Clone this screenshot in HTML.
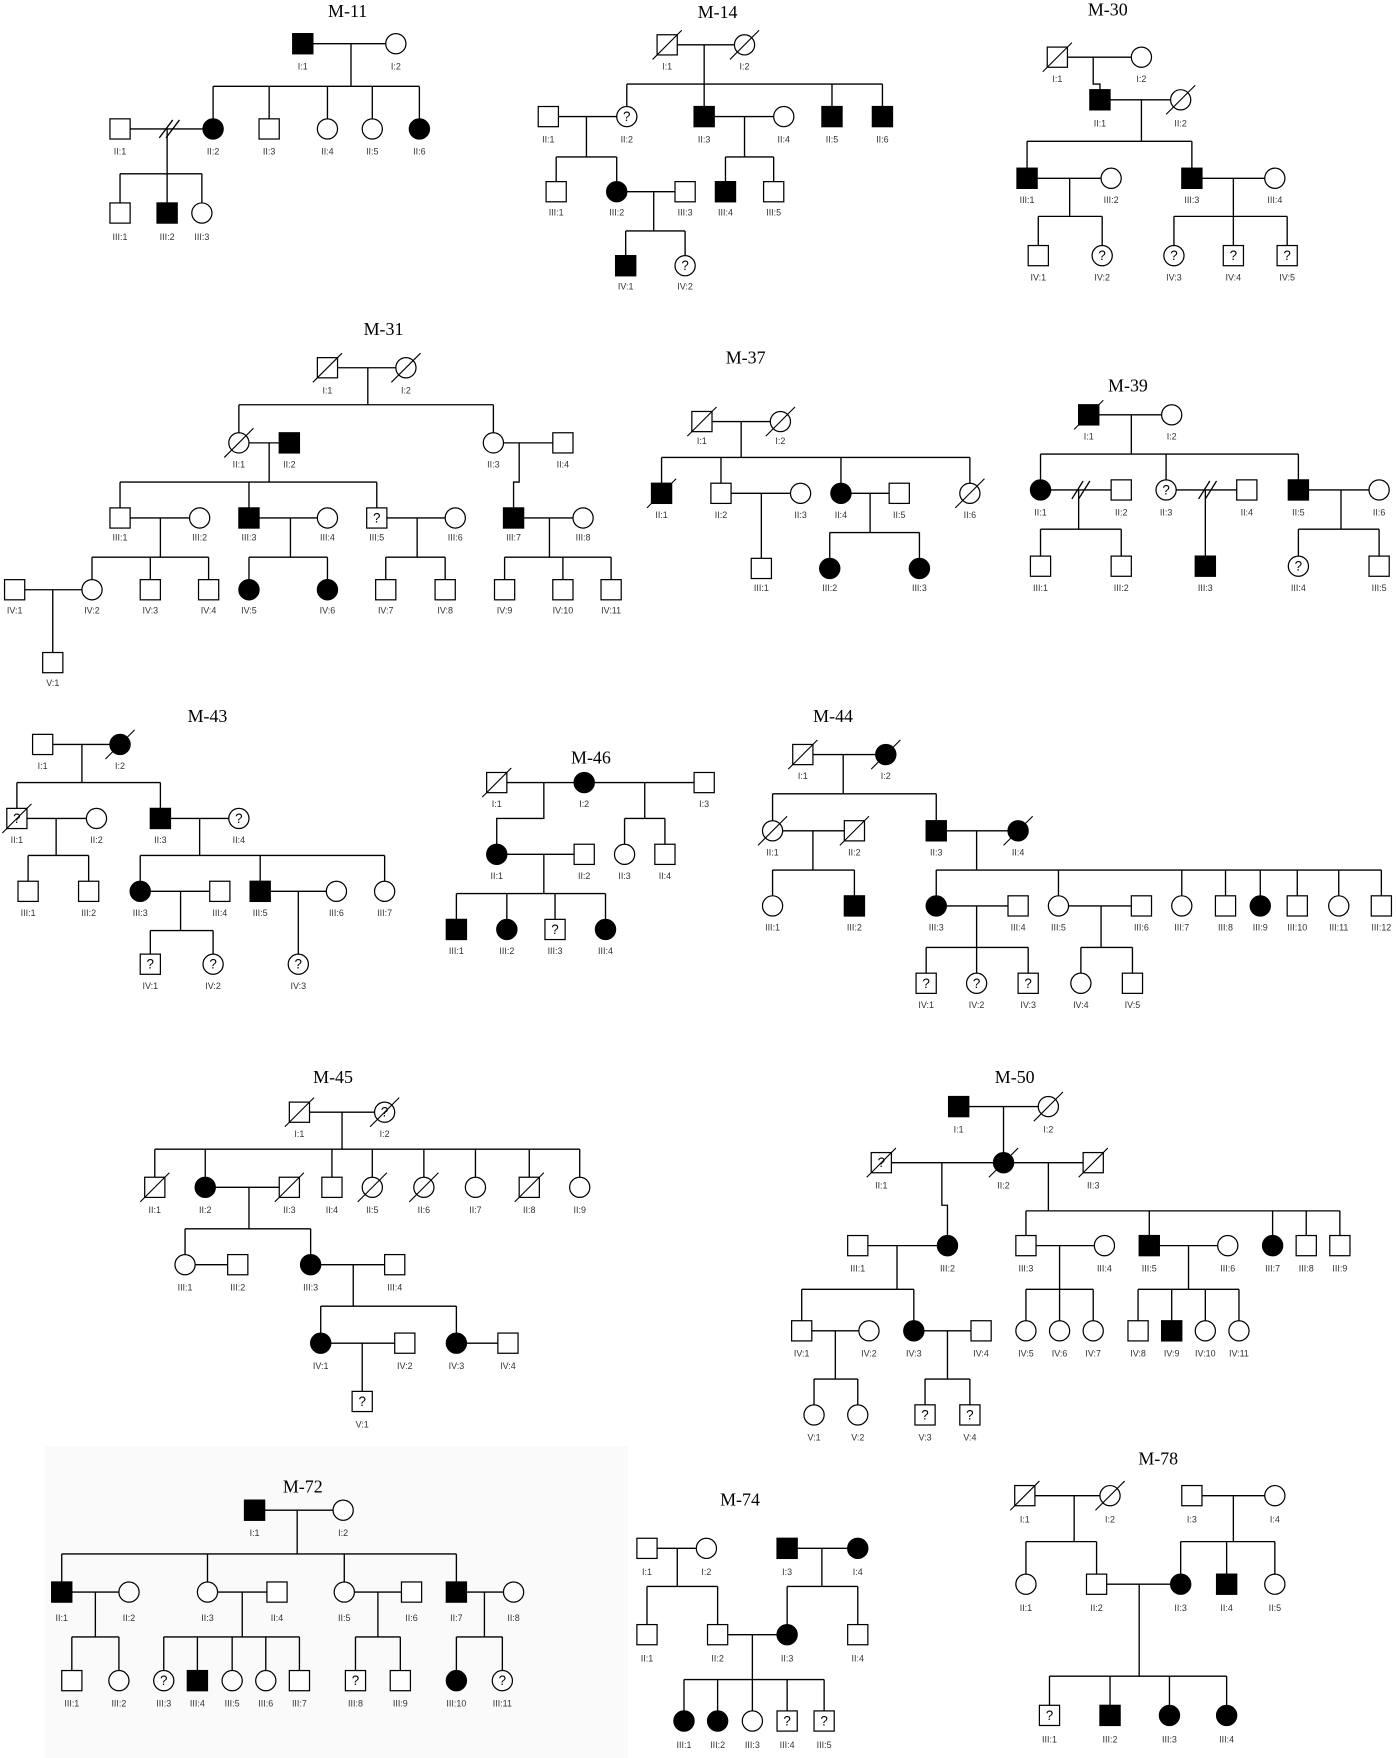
<!DOCTYPE html>
<html><head><meta charset="utf-8"><style>
html,body{margin:0;padding:0;background:#fff}
svg{display:block}
.l{fill:none;stroke:#000;stroke-width:1.2}
rect,circle{fill:#fff;stroke:#000;stroke-width:1.1}
.f{fill:#000}
.d{stroke:#000;stroke-width:1}
.t{font-family:"Liberation Serif",serif;font-size:16px;text-anchor:middle;fill:#000}
.b text{font-family:"Liberation Sans",sans-serif;font-size:8px;text-anchor:middle;fill:#333}
.q{font-family:"Liberation Sans",sans-serif;font-size:12px;text-anchor:middle;fill:#000}
</style></head><body>
<svg width="1396" height="1758" viewBox="0 0 1245 1568" xmlns="http://www.w3.org/2000/svg">
<rect x="0" y="0" width="1245" height="1568" style="fill:#fff;stroke:none"/>
<rect x="40" y="1290" width="520" height="278" style="fill:#fafafa;stroke:none"/>

<!-- TITLES -->
<text class="t" x="310" y="15">M-11</text>
<text class="t" x="640" y="16">M-14</text>
<text class="t" x="988" y="14">M-30</text>
<text class="t" x="342" y="299">M-31</text>
<text class="t" x="665" y="324">M-37</text>
<text class="t" x="1006" y="349">M-39</text>
<text class="t" x="185" y="644">M-43</text>
<text class="t" x="527" y="681">M-46</text>
<text class="t" x="743" y="644">M-44</text>
<text class="t" x="297" y="966">M-45</text>
<text class="t" x="905" y="966">M-50</text>
<text class="t" x="270" y="1331">M-72</text>
<text class="t" x="660" y="1343">M-74</text>
<text class="t" x="1033" y="1306">M-78</text>

<!-- LINES -->
<path class="l" d="
M270 39H353 M313 39V77 M190 77H374 M190 77V115 M240 77V115 M292 77V115 M332 77V115 M374 77V115
M107 115H190 M149 115V155 M107 155H180 M107 155V190 M149 155V190 M180 155V190
M595 40H664 M628 40V75 M559 75H787 M559 75V104 M628 75V104 M742 75V104 M787 75V104
M489 104H559 M523 104V140 M496 140H550 M496 140V171 M550 140V171
M550 171H611 M583 171V206 M558 206H611 M558 206V237 M611 206V237
M628 104H699 M664 104V140 M647 140H690 M647 140V171 M690 140V171
M943 51H1018 M975 51V75 H981 V89 M981 89H1053 M1018 89V126 M916 126H1063 M916 126V159 M1063 126V159
M916 159H991 M954 159V193 M926 193H983 M926 193V228 M983 193V228
M1063 159H1137 M1100 159V193 M1047 193H1148 M1047 193V228 M1100 193V228 M1148 193V228
M292 328H362 M328 328V361 M213 361H440 M213 361V395 M440 361V395
M213 395H258 M240 395V430 M107 430H336 M107 430V462 M222 430V462 M336 430V462
M440 395H502 M463 395V430 H458 V462 M458 462H520
M107 462H178 M143 462V497 M82 497H186 M82 497V526 M134 497V526 M186 497V526
M222 462H292 M259 462V497 M222 497H292 M222 497V526 M292 497V526
M336 462H406 M372 462V497 M344 497H397 M344 497V526 M397 497V526
M490 462V497 M450 497H545 M450 497V526 M502 497V526 M545 497V526
M13 526H82 M47 526V591
M626 376H696 M661 376V408 M590 408H865 M590 408V440 M643 408V440 M750 408V440 M865 408V440
M643 440H714 M679 440V507 M750 440H802 M776 440V475 M740 475H820 M740 475V507 M820 475V507
M971 370H1045 M1009 370V405 M928 405H1158 M928 405V437 M1040 405V437 M1158 405V437
M928 437H1000 M962 437V472 M928 472H1000 M928 472V505 M1000 472V505
M1040 437H1112 M1075 437V505 M1158 437H1230 M1196 437V472 M1158 472H1230 M1158 472V505 M1230 472V505
M38 664H107 M73 664V698 M15 698H143 M15 698V730 M143 698V730
M15 730H86 M50 730V763 M25 763H79 M25 763V795 M79 763V795
M143 730H213 M178 730V763 M125 763H343 M125 763V795 M232 763V795 M343 763V795
M125 795H196 M161 795V830 M134 830H190 M134 830V860 M190 830V860
M232 795H300 M266 795V860
M443 698H628 M485 698V730 H443 V762 M575 698V730 M557 730H593 M557 730V762 M593 730V762
M443 762H521 M485 762V797 M407 797H540 M407 797V829 M452 797V829 M495 797V829 M540 797V829
M716 673H790 M752 673V708 M689 708H835 M689 708V741 M835 708V741
M689 741H762 M725 741V776 M689 776H762 M689 776V808 M762 776V808
M835 741H908 M871 741V776 M835 776H1232 M835 776V808 M944 776V808 M1054 776V808 M1093 776V808 M1124 776V808 M1157 776V808 M1194 776V808 M1232 776V808
M835 808H908 M871 808V845 M826 845H917 M826 845V877 M871 845V877 M917 845V877
M944 808H1018 M982 808V845 M964 845H1010 M964 845V877 M1010 845V877
M267 992H343 M305 992V1025 M138 1025H517 M138 1025V1059 M183 1025V1059 M296 1025V1059 M332 1025V1059 M378 1025V1059 M424 1025V1059 M472 1025V1059 M517 1025V1059
M183 1059H258 M222 1059V1096 M165 1096H277 M165 1096V1128 M277 1096V1128 M165 1128H212
M277 1128H352 M315 1128V1165 M286 1165H407 M286 1165V1198 M407 1165V1198
M286 1198H361 M323 1198V1250 M407 1198H453
M855 987H935 M895 987V1037 M786 1037H975 M840 1037V1075 H845 V1111 M935 1037V1080 M915 1080H1195 M915 1080V1111 M1025 1080V1111 M1135 1080V1111 M1165 1080V1111 M1195 1080V1111
M765 1111H845 M800 1111V1150 M715 1150H815 M715 1150V1187 M815 1150V1187
M715 1187H775 M745 1187V1230 M726 1230H765 M726 1230V1262 M765 1230V1262
M815 1187H875 M845 1187V1230 M825 1230H865 M825 1230V1262 M865 1230V1262
M915 1111H985 M945 1111V1150 M915 1150H975 M915 1150V1187 M945 1150V1187 M975 1150V1187
M1025 1111H1095 M1060 1111V1150 M1015 1150H1105 M1015 1150V1187 M1045 1150V1187 M1075 1150V1187 M1105 1150V1187
M227 1347H306 M265 1347V1386 M55 1386H407 M55 1386V1420 M185 1386V1420 M307 1386V1420 M407 1386V1420
M55 1420H115 M85 1420V1460 M64 1460H106 M64 1460V1499 M106 1460V1499
M185 1420H247 M216 1420V1460 M146 1460H267 M146 1460V1499 M176 1460V1499 M207 1460V1499 M237 1460V1499 M267 1460V1499
M307 1420H367 M337 1420V1460 M317 1460H357 M317 1460V1499 M357 1460V1499
M407 1420H458 M432 1420V1460 M407 1460H448 M407 1460V1499 M448 1460V1499
M577 1381H630 M604 1381V1415 M577 1415H640 M577 1415V1458 M640 1415V1458
M702 1381H765 M733 1381V1415 M702 1415H765 M702 1415V1458 M765 1415V1458
M640 1458H702 M671 1458V1498 M610 1498H735 M610 1498V1535 M640 1498V1535 M671 1498V1535 M702 1498V1535 M735 1498V1535
M914 1334H990 M958 1334V1375 M915 1375H978 M915 1375V1413 M978 1375V1413
M1063 1334H1137 M1100 1334V1375 M1053 1375H1137 M1053 1375V1413 M1094 1375V1413 M1137 1375V1413
M978 1413H1053 M1016 1413V1495 M936 1495H1094 M936 1495V1530 M990 1495V1530 M1043 1495V1530 M1094 1495V1530
"/>
<!-- divorce slashes -->
<path class="l" d="M142 123L154 107 M148 123L160 107 M956 445L966 429 M962 445L972 429 M1069 445L1079 429 M1075 445L1085 429"/>

<!-- SHAPES -->
<g>
<!-- M-11 -->
<rect class="f" x="261" y="30" width="18" height="18"/><circle cx="353" cy="39" r="9"/>
<rect x="98" y="106" width="18" height="18"/><circle class="f" cx="190" cy="115" r="9"/><rect x="231" y="106" width="18" height="18"/><circle cx="292" cy="115" r="9"/><circle cx="332" cy="115" r="9"/><circle class="f" cx="374" cy="115" r="9"/>
<rect x="98" y="181" width="18" height="18"/><rect class="f" x="140" y="181" width="18" height="18"/><circle cx="180" cy="190" r="9"/>
<!-- M-14 -->
<rect x="586" y="31" width="18" height="18"/><circle cx="664" cy="40" r="9"/>
<rect x="480" y="95" width="18" height="18"/><circle cx="559" cy="104" r="9"/><rect class="f" x="619" y="95" width="18" height="18"/><circle cx="699" cy="104" r="9"/><rect class="f" x="733" y="95" width="18" height="18"/><rect class="f" x="778" y="95" width="18" height="18"/>
<rect x="487" y="162" width="18" height="18"/><circle class="f" cx="550" cy="171" r="9"/><rect x="602" y="162" width="18" height="18"/><rect class="f" x="638" y="162" width="18" height="18"/><rect x="681" y="162" width="18" height="18"/>
<rect class="f" x="549" y="228" width="18" height="18"/><circle cx="611" cy="237" r="9"/>
<!-- M-30 -->
<rect x="934" y="42" width="18" height="18"/><circle cx="1018" cy="51" r="9"/>
<rect class="f" x="972" y="80" width="18" height="18"/><circle cx="1053" cy="89" r="9"/>
<rect class="f" x="907" y="150" width="18" height="18"/><circle cx="991" cy="159" r="9"/><rect class="f" x="1054" y="150" width="18" height="18"/><circle cx="1137" cy="159" r="9"/>
<rect x="917" y="219" width="18" height="18"/><circle cx="983" cy="228" r="9"/><circle cx="1047" cy="228" r="9"/><rect x="1091" y="219" width="18" height="18"/><rect x="1139" y="219" width="18" height="18"/>
<!-- M-31 -->
<rect x="283" y="319" width="18" height="18"/><circle cx="362" cy="328" r="9"/>
<circle cx="213" cy="395" r="9"/><rect class="f" x="249" y="386" width="18" height="18"/><circle cx="440" cy="395" r="9"/><rect x="493" y="386" width="18" height="18"/>
<rect x="98" y="453" width="18" height="18"/><circle cx="178" cy="462" r="9"/><rect class="f" x="213" y="453" width="18" height="18"/><circle cx="292" cy="462" r="9"/><rect x="327" y="453" width="18" height="18"/><circle cx="406" cy="462" r="9"/><rect class="f" x="449" y="453" width="18" height="18"/><circle cx="520" cy="462" r="9"/>
<rect x="4" y="517" width="18" height="18"/><circle cx="82" cy="526" r="9"/><rect x="125" y="517" width="18" height="18"/><rect x="177" y="517" width="18" height="18"/><circle class="f" cx="222" cy="526" r="9"/><circle class="f" cx="292" cy="526" r="9"/><rect x="335" y="517" width="18" height="18"/><rect x="388" y="517" width="18" height="18"/><rect x="441" y="517" width="18" height="18"/><rect x="493" y="517" width="18" height="18"/><rect x="536" y="517" width="18" height="18"/>
<rect x="38" y="582" width="18" height="18"/>
<!-- M-37 -->
<rect x="617" y="367" width="18" height="18"/><circle cx="696" cy="376" r="9"/>
<rect class="f" x="581" y="431" width="18" height="18"/><rect x="634" y="431" width="18" height="18"/><circle cx="714" cy="440" r="9"/><circle class="f" cx="750" cy="440" r="9"/><rect x="793" y="431" width="18" height="18"/><circle cx="865" cy="440" r="9"/>
<rect x="670" y="498" width="18" height="18"/><circle class="f" cx="740" cy="507" r="9"/><circle class="f" cx="820" cy="507" r="9"/>
<!-- M-39 -->
<rect class="f" x="962" y="361" width="18" height="18"/><circle cx="1045" cy="370" r="9"/>
<circle class="f" cx="928" cy="437" r="9"/><rect x="991" y="428" width="18" height="18"/><circle cx="1040" cy="437" r="9"/><rect x="1103" y="428" width="18" height="18"/><rect class="f" x="1149" y="428" width="18" height="18"/><circle cx="1230" cy="437" r="9"/>
<rect x="919" y="496" width="18" height="18"/><rect x="991" y="496" width="18" height="18"/><rect class="f" x="1066" y="496" width="18" height="18"/><circle cx="1158" cy="505" r="9"/><rect x="1221" y="496" width="18" height="18"/>
<!-- M-43 -->
<rect x="29" y="655" width="18" height="18"/><circle class="f" cx="107" cy="664" r="9"/>
<rect x="6" y="721" width="18" height="18"/><circle cx="86" cy="730" r="9"/><rect class="f" x="134" y="721" width="18" height="18"/><circle cx="213" cy="730" r="9"/>
<rect x="16" y="786" width="18" height="18"/><rect x="70" y="786" width="18" height="18"/><circle class="f" cx="125" cy="795" r="9"/><rect x="187" y="786" width="18" height="18"/><rect class="f" x="223" y="786" width="18" height="18"/><circle cx="300" cy="795" r="9"/><circle cx="343" cy="795" r="9"/>
<rect x="125" y="851" width="18" height="18"/><circle cx="190" cy="860" r="9"/><circle cx="266" cy="860" r="9"/>
<!-- M-46 -->
<rect x="434" y="689" width="18" height="18"/><circle class="f" cx="521" cy="698" r="9"/><rect x="619" y="689" width="18" height="18"/>
<circle class="f" cx="443" cy="762" r="9"/><rect x="512" y="753" width="18" height="18"/><circle cx="557" cy="762" r="9"/><rect x="584" y="753" width="18" height="18"/>
<rect class="f" x="398" y="820" width="18" height="18"/><circle class="f" cx="452" cy="829" r="9"/><rect x="486" y="820" width="18" height="18"/><circle class="f" cx="540" cy="829" r="9"/>
<!-- M-44 -->
<rect x="707" y="664" width="18" height="18"/><circle class="f" cx="790" cy="673" r="9"/>
<circle cx="689" cy="741" r="9"/><rect x="753" y="732" width="18" height="18"/><rect class="f" x="826" y="732" width="18" height="18"/><circle class="f" cx="908" cy="741" r="9"/>
<circle cx="689" cy="808" r="9"/><rect class="f" x="753" y="799" width="18" height="18"/><circle class="f" cx="835" cy="808" r="9"/><rect x="899" y="799" width="18" height="18"/><circle cx="944" cy="808" r="9"/><rect x="1009" y="799" width="18" height="18"/><circle cx="1054" cy="808" r="9"/><rect x="1084" y="799" width="18" height="18"/><circle class="f" cx="1124" cy="808" r="9"/><rect x="1148" y="799" width="18" height="18"/><circle cx="1194" cy="808" r="9"/><rect x="1223" y="799" width="18" height="18"/>
<rect x="817" y="868" width="18" height="18"/><circle cx="871" cy="877" r="9"/><rect x="908" y="868" width="18" height="18"/><circle cx="964" cy="877" r="9"/><rect x="1001" y="868" width="18" height="18"/>
<!-- M-45 -->
<rect x="258" y="983" width="18" height="18"/><circle cx="343" cy="992" r="9"/>
<rect x="129" y="1050" width="18" height="18"/><circle class="f" cx="183" cy="1059" r="9"/><rect x="249" y="1050" width="18" height="18"/><rect x="287" y="1050" width="18" height="18"/><circle cx="332" cy="1059" r="9"/><circle cx="378" cy="1059" r="9"/><circle cx="424" cy="1059" r="9"/><rect x="463" y="1050" width="18" height="18"/><circle cx="517" cy="1059" r="9"/>
<circle cx="165" cy="1128" r="9"/><rect x="203" y="1119" width="18" height="18"/><circle class="f" cx="277" cy="1128" r="9"/><rect x="343" y="1119" width="18" height="18"/>
<circle class="f" cx="286" cy="1198" r="9"/><rect x="352" y="1189" width="18" height="18"/><circle class="f" cx="407" cy="1198" r="9"/><rect x="444" y="1189" width="18" height="18"/>
<rect x="314" y="1241" width="18" height="18"/>
<!-- M-50 -->
<rect class="f" x="846" y="978" width="18" height="18"/><circle cx="935" cy="987" r="9"/>
<rect x="777" y="1028" width="18" height="18"/><circle class="f" cx="895" cy="1037" r="9"/><rect x="966" y="1028" width="18" height="18"/>
<rect x="756" y="1102" width="18" height="18"/><circle class="f" cx="845" cy="1111" r="9"/><rect x="906" y="1102" width="18" height="18"/><circle cx="985" cy="1111" r="9"/><rect class="f" x="1016" y="1102" width="18" height="18"/><circle cx="1095" cy="1111" r="9"/><circle class="f" cx="1135" cy="1111" r="9"/><rect x="1156" y="1102" width="18" height="18"/><rect x="1186" y="1102" width="18" height="18"/>
<rect x="706" y="1178" width="18" height="18"/><circle cx="775" cy="1187" r="9"/><circle class="f" cx="815" cy="1187" r="9"/><rect x="866" y="1178" width="18" height="18"/><circle cx="915" cy="1187" r="9"/><circle cx="945" cy="1187" r="9"/><circle cx="975" cy="1187" r="9"/><rect x="1006" y="1178" width="18" height="18"/><rect class="f" x="1036" y="1178" width="18" height="18"/><circle cx="1075" cy="1187" r="9"/><circle cx="1105" cy="1187" r="9"/>
<circle cx="726" cy="1262" r="9"/><circle cx="765" cy="1262" r="9"/><rect x="816" y="1253" width="18" height="18"/><rect x="856" y="1253" width="18" height="18"/>
<!-- M-72 -->
<rect class="f" x="218" y="1338" width="18" height="18"/><circle cx="306" cy="1347" r="9"/>
<rect class="f" x="46" y="1411" width="18" height="18"/><circle cx="115" cy="1420" r="9"/><circle cx="185" cy="1420" r="9"/><rect x="238" y="1411" width="18" height="18"/><circle cx="307" cy="1420" r="9"/><rect x="358" y="1411" width="18" height="18"/><rect class="f" x="398" y="1411" width="18" height="18"/><circle cx="458" cy="1420" r="9"/>
<rect x="55" y="1490" width="18" height="18"/><circle cx="106" cy="1499" r="9"/><circle cx="146" cy="1499" r="9"/><rect class="f" x="167" y="1490" width="18" height="18"/><circle cx="207" cy="1499" r="9"/><circle cx="237" cy="1499" r="9"/><rect x="258" y="1490" width="18" height="18"/><rect x="308" y="1490" width="18" height="18"/><rect x="348" y="1490" width="18" height="18"/><circle class="f" cx="407" cy="1499" r="9"/><circle cx="448" cy="1499" r="9"/>
<!-- M-74 -->
<rect x="568" y="1372" width="18" height="18"/><circle cx="630" cy="1381" r="9"/><rect class="f" x="693" y="1372" width="18" height="18"/><circle class="f" cx="765" cy="1381" r="9"/>
<rect x="568" y="1449" width="18" height="18"/><rect x="631" y="1449" width="18" height="18"/><circle class="f" cx="702" cy="1458" r="9"/><rect x="756" y="1449" width="18" height="18"/>
<circle class="f" cx="610" cy="1535" r="9"/><circle class="f" cx="640" cy="1535" r="9"/><circle cx="671" cy="1535" r="9"/><rect x="693" y="1526" width="18" height="18"/><rect x="726" y="1526" width="18" height="18"/>
<!-- M-78 -->
<rect x="905" y="1325" width="18" height="18"/><circle cx="990" cy="1334" r="9"/><rect x="1054" y="1325" width="18" height="18"/><circle cx="1137" cy="1334" r="9"/>
<circle cx="915" cy="1413" r="9"/><rect x="969" y="1404" width="18" height="18"/><circle class="f" cx="1053" cy="1413" r="9"/><rect class="f" x="1085" y="1404" width="18" height="18"/><circle cx="1137" cy="1413" r="9"/>
<rect x="927" y="1521" width="18" height="18"/><rect class="f" x="981" y="1521" width="18" height="18"/><circle class="f" cx="1043" cy="1530" r="9"/><circle class="f" cx="1094" cy="1530" r="9"/>
</g>

<!-- deceased slashes -->
<path class="d" d="M582 53L608 27 M651 53L677 27 M930 64L956 38 M1040 102L1066 76
M279 341L305 315 M349 341L375 315 M200 408L226 382
M613 389L639 363 M683 389L709 363 M577 453L603 427 M852 453L878 427 M958 383L984 357
M94 677L120 651 M2 743L28 717
M430 711L456 685
M703 686L729 660 M777 686L803 660 M676 754L702 728 M749 754L775 728 M895 754L921 728
M254 1005L280 979 M330 1005L356 979 M125 1072L151 1046 M245 1072L271 1046 M319 1072L345 1046 M365 1072L391 1046 M459 1072L485 1046
M922 1000L948 974 M773 1050L799 1024 M882 1050L908 1024 M962 1050L988 1024
M901 1347L927 1321 M977 1347L1003 1321"/>

<!-- question marks -->
<g>
<text class="q" x="559" y="108">?</text><text class="q" x="611" y="241">?</text>
<text class="q" x="983" y="232">?</text><text class="q" x="1047" y="232">?</text><text class="q" x="1100" y="232">?</text><text class="q" x="1148" y="232">?</text>
<text class="q" x="336" y="466">?</text><text class="q" x="1040" y="441">?</text><text class="q" x="1158" y="509">?</text>
<text class="q" x="15" y="734">?</text><text class="q" x="213" y="734">?</text><text class="q" x="134" y="864">?</text><text class="q" x="190" y="864">?</text><text class="q" x="266" y="864">?</text>
<text class="q" x="495" y="833">?</text>
<text class="q" x="826" y="881">?</text><text class="q" x="871" y="881">?</text><text class="q" x="917" y="881">?</text>
<text class="q" x="343" y="996">?</text><text class="q" x="323" y="1254">?</text>
<text class="q" x="786" y="1041">?</text><text class="q" x="825" y="1266">?</text><text class="q" x="865" y="1266">?</text>
<text class="q" x="146" y="1503">?</text><text class="q" x="317" y="1503">?</text><text class="q" x="448" y="1503">?</text>
<text class="q" x="702" y="1539">?</text><text class="q" x="735" y="1539">?</text><text class="q" x="936" y="1534">?</text>
</g>

<!-- LABELS -->
<g class="b">
<text x="270" y="62">I:1</text><text x="353" y="62">I:2</text>
<text x="107" y="138">II:1</text><text x="190" y="138">II:2</text><text x="240" y="138">II:3</text><text x="292" y="138">II:4</text><text x="332" y="138">II:5</text><text x="374" y="138">II:6</text>
<text x="107" y="214">III:1</text><text x="149" y="214">III:2</text><text x="180" y="214">III:3</text>

<text x="595" y="62">I:1</text><text x="664" y="62">I:2</text>
<text x="489" y="127">II:1</text><text x="559" y="127">II:2</text><text x="628" y="127">II:3</text><text x="699" y="127">II:4</text><text x="742" y="127">II:5</text><text x="787" y="127">II:6</text>
<text x="496" y="192">III:1</text><text x="550" y="192">III:2</text><text x="611" y="192">III:3</text><text x="647" y="192">III:4</text><text x="690" y="192">III:5</text>
<text x="558" y="258">IV:1</text><text x="611" y="258">IV:2</text>

<text x="943" y="73">I:1</text><text x="1018" y="73">I:2</text>
<text x="981" y="113">II:1</text><text x="1053" y="113">II:2</text>
<text x="916" y="181">III:1</text><text x="991" y="181">III:2</text><text x="1063" y="181">III:3</text><text x="1137" y="181">III:4</text>
<text x="926" y="250">IV:1</text><text x="983" y="250">IV:2</text><text x="1047" y="250">IV:3</text><text x="1100" y="250">IV:4</text><text x="1148" y="250">IV:5</text>

<text x="292" y="351">I:1</text><text x="362" y="351">I:2</text>
<text x="213" y="417">II:1</text><text x="258" y="417">II:2</text><text x="440" y="417">II:3</text><text x="502" y="417">II:4</text>
<text x="107" y="482">III:1</text><text x="178" y="482">III:2</text><text x="222" y="482">III:3</text><text x="292" y="482">III:4</text><text x="336" y="482">III:5</text><text x="406" y="482">III:6</text><text x="458" y="482">III:7</text><text x="520" y="482">III:8</text>
<text x="13" y="547">IV:1</text><text x="82" y="547">IV:2</text><text x="134" y="547">IV:3</text><text x="186" y="547">IV:4</text><text x="222" y="547">IV:5</text><text x="292" y="547">IV:6</text><text x="344" y="547">IV:7</text><text x="397" y="547">IV:8</text><text x="450" y="547">IV:9</text><text x="502" y="547">IV:10</text><text x="545" y="547">IV:11</text>
<text x="47" y="612">V:1</text>

<text x="626" y="396">I:1</text><text x="696" y="396">I:2</text>
<text x="590" y="462">II:1</text><text x="643" y="462">II:2</text><text x="714" y="462">II:3</text><text x="750" y="462">II:4</text><text x="802" y="462">II:5</text><text x="865" y="462">II:6</text>
<text x="679" y="527">III:1</text><text x="740" y="527">III:2</text><text x="820" y="527">III:3</text>

<text x="971" y="392">I:1</text><text x="1045" y="392">I:2</text>
<text x="928" y="460">II:1</text><text x="1000" y="460">II:2</text><text x="1040" y="460">II:3</text><text x="1112" y="460">II:4</text><text x="1158" y="460">II:5</text><text x="1230" y="460">II:6</text>
<text x="928" y="527">III:1</text><text x="1000" y="527">III:2</text><text x="1075" y="527">III:3</text><text x="1158" y="527">III:4</text><text x="1230" y="527">III:5</text>

<text x="38" y="686">I:1</text><text x="107" y="686">I:2</text>
<text x="15" y="752">II:1</text><text x="86" y="752">II:2</text><text x="143" y="752">II:3</text><text x="213" y="752">II:4</text>
<text x="25" y="817">III:1</text><text x="79" y="817">III:2</text><text x="125" y="817">III:3</text><text x="196" y="817">III:4</text><text x="232" y="817">III:5</text><text x="300" y="817">III:6</text><text x="343" y="817">III:7</text>
<text x="134" y="882">IV:1</text><text x="190" y="882">IV:2</text><text x="266" y="882">IV:3</text>

<text x="443" y="720">I:1</text><text x="521" y="720">I:2</text><text x="628" y="720">I:3</text>
<text x="443" y="784">II:1</text><text x="521" y="784">II:2</text><text x="557" y="784">II:3</text><text x="593" y="784">II:4</text>
<text x="407" y="851">III:1</text><text x="452" y="851">III:2</text><text x="495" y="851">III:3</text><text x="540" y="851">III:4</text>

<text x="716" y="695">I:1</text><text x="790" y="695">I:2</text>
<text x="689" y="763">II:1</text><text x="762" y="763">II:2</text><text x="835" y="763">II:3</text><text x="908" y="763">II:4</text>
<text x="689" y="830">III:1</text><text x="762" y="830">III:2</text><text x="835" y="830">III:3</text><text x="908" y="830">III:4</text><text x="944" y="830">III:5</text><text x="1018" y="830">III:6</text><text x="1054" y="830">III:7</text><text x="1093" y="830">III:8</text><text x="1124" y="830">III:9</text><text x="1157" y="830">III:10</text><text x="1194" y="830">III:11</text><text x="1232" y="830">III:12</text>
<text x="826" y="899">IV:1</text><text x="871" y="899">IV:2</text><text x="917" y="899">IV:3</text><text x="964" y="899">IV:4</text><text x="1010" y="899">IV:5</text>

<text x="267" y="1014">I:1</text><text x="343" y="1014">I:2</text>
<text x="138" y="1082">II:1</text><text x="183" y="1082">II:2</text><text x="258" y="1082">II:3</text><text x="296" y="1082">II:4</text><text x="332" y="1082">II:5</text><text x="378" y="1082">II:6</text><text x="424" y="1082">II:7</text><text x="472" y="1082">II:8</text><text x="517" y="1082">II:9</text>
<text x="165" y="1151">III:1</text><text x="212" y="1151">III:2</text><text x="277" y="1151">III:3</text><text x="352" y="1151">III:4</text>
<text x="286" y="1221">IV:1</text><text x="361" y="1221">IV:2</text><text x="407" y="1221">IV:3</text><text x="453" y="1221">IV:4</text>
<text x="323" y="1273">V:1</text>

<text x="855" y="1010">I:1</text><text x="935" y="1010">I:2</text>
<text x="786" y="1060">II:1</text><text x="895" y="1060">II:2</text><text x="975" y="1060">II:3</text>
<text x="765" y="1134">III:1</text><text x="845" y="1134">III:2</text><text x="915" y="1134">III:3</text><text x="985" y="1134">III:4</text><text x="1025" y="1134">III:5</text><text x="1095" y="1134">III:6</text><text x="1135" y="1134">III:7</text><text x="1165" y="1134">III:8</text><text x="1195" y="1134">III:9</text>
<text x="715" y="1210">IV:1</text><text x="775" y="1210">IV:2</text><text x="815" y="1210">IV:3</text><text x="875" y="1210">IV:4</text><text x="915" y="1210">IV:5</text><text x="945" y="1210">IV:6</text><text x="975" y="1210">IV:7</text><text x="1015" y="1210">IV:8</text><text x="1045" y="1210">IV:9</text><text x="1075" y="1210">IV:10</text><text x="1105" y="1210">IV:11</text>
<text x="726" y="1285">V:1</text><text x="765" y="1285">V:2</text><text x="825" y="1285">V:3</text><text x="865" y="1285">V:4</text>

<text x="227" y="1370">I:1</text><text x="306" y="1370">I:2</text>
<text x="55" y="1446">II:1</text><text x="115" y="1446">II:2</text><text x="185" y="1446">II:3</text><text x="247" y="1446">II:4</text><text x="307" y="1446">II:5</text><text x="367" y="1446">II:6</text><text x="407" y="1446">II:7</text><text x="458" y="1446">II:8</text>
<text x="64" y="1522">III:1</text><text x="106" y="1522">III:2</text><text x="146" y="1522">III:3</text><text x="176" y="1522">III:4</text><text x="207" y="1522">III:5</text><text x="237" y="1522">III:6</text><text x="267" y="1522">III:7</text><text x="317" y="1522">III:8</text><text x="357" y="1522">III:9</text><text x="407" y="1522">III:10</text><text x="448" y="1522">III:11</text>

<text x="577" y="1405">I:1</text><text x="630" y="1405">I:2</text><text x="702" y="1405">I:3</text><text x="765" y="1405">I:4</text>
<text x="577" y="1482">II:1</text><text x="640" y="1482">II:2</text><text x="702" y="1482">II:3</text><text x="765" y="1482">II:4</text>
<text x="610" y="1559">III:1</text><text x="640" y="1559">III:2</text><text x="671" y="1559">III:3</text><text x="702" y="1559">III:4</text><text x="735" y="1559">III:5</text>

<text x="914" y="1358">I:1</text><text x="990" y="1358">I:2</text><text x="1063" y="1358">I:3</text><text x="1137" y="1358">I:4</text>
<text x="915" y="1437">II:1</text><text x="978" y="1437">II:2</text><text x="1053" y="1437">II:3</text><text x="1094" y="1437">II:4</text><text x="1137" y="1437">II:5</text>
<text x="936" y="1554">III:1</text><text x="990" y="1554">III:2</text><text x="1043" y="1554">III:3</text><text x="1094" y="1554">III:4</text>
</g>
</svg>
</body></html>
